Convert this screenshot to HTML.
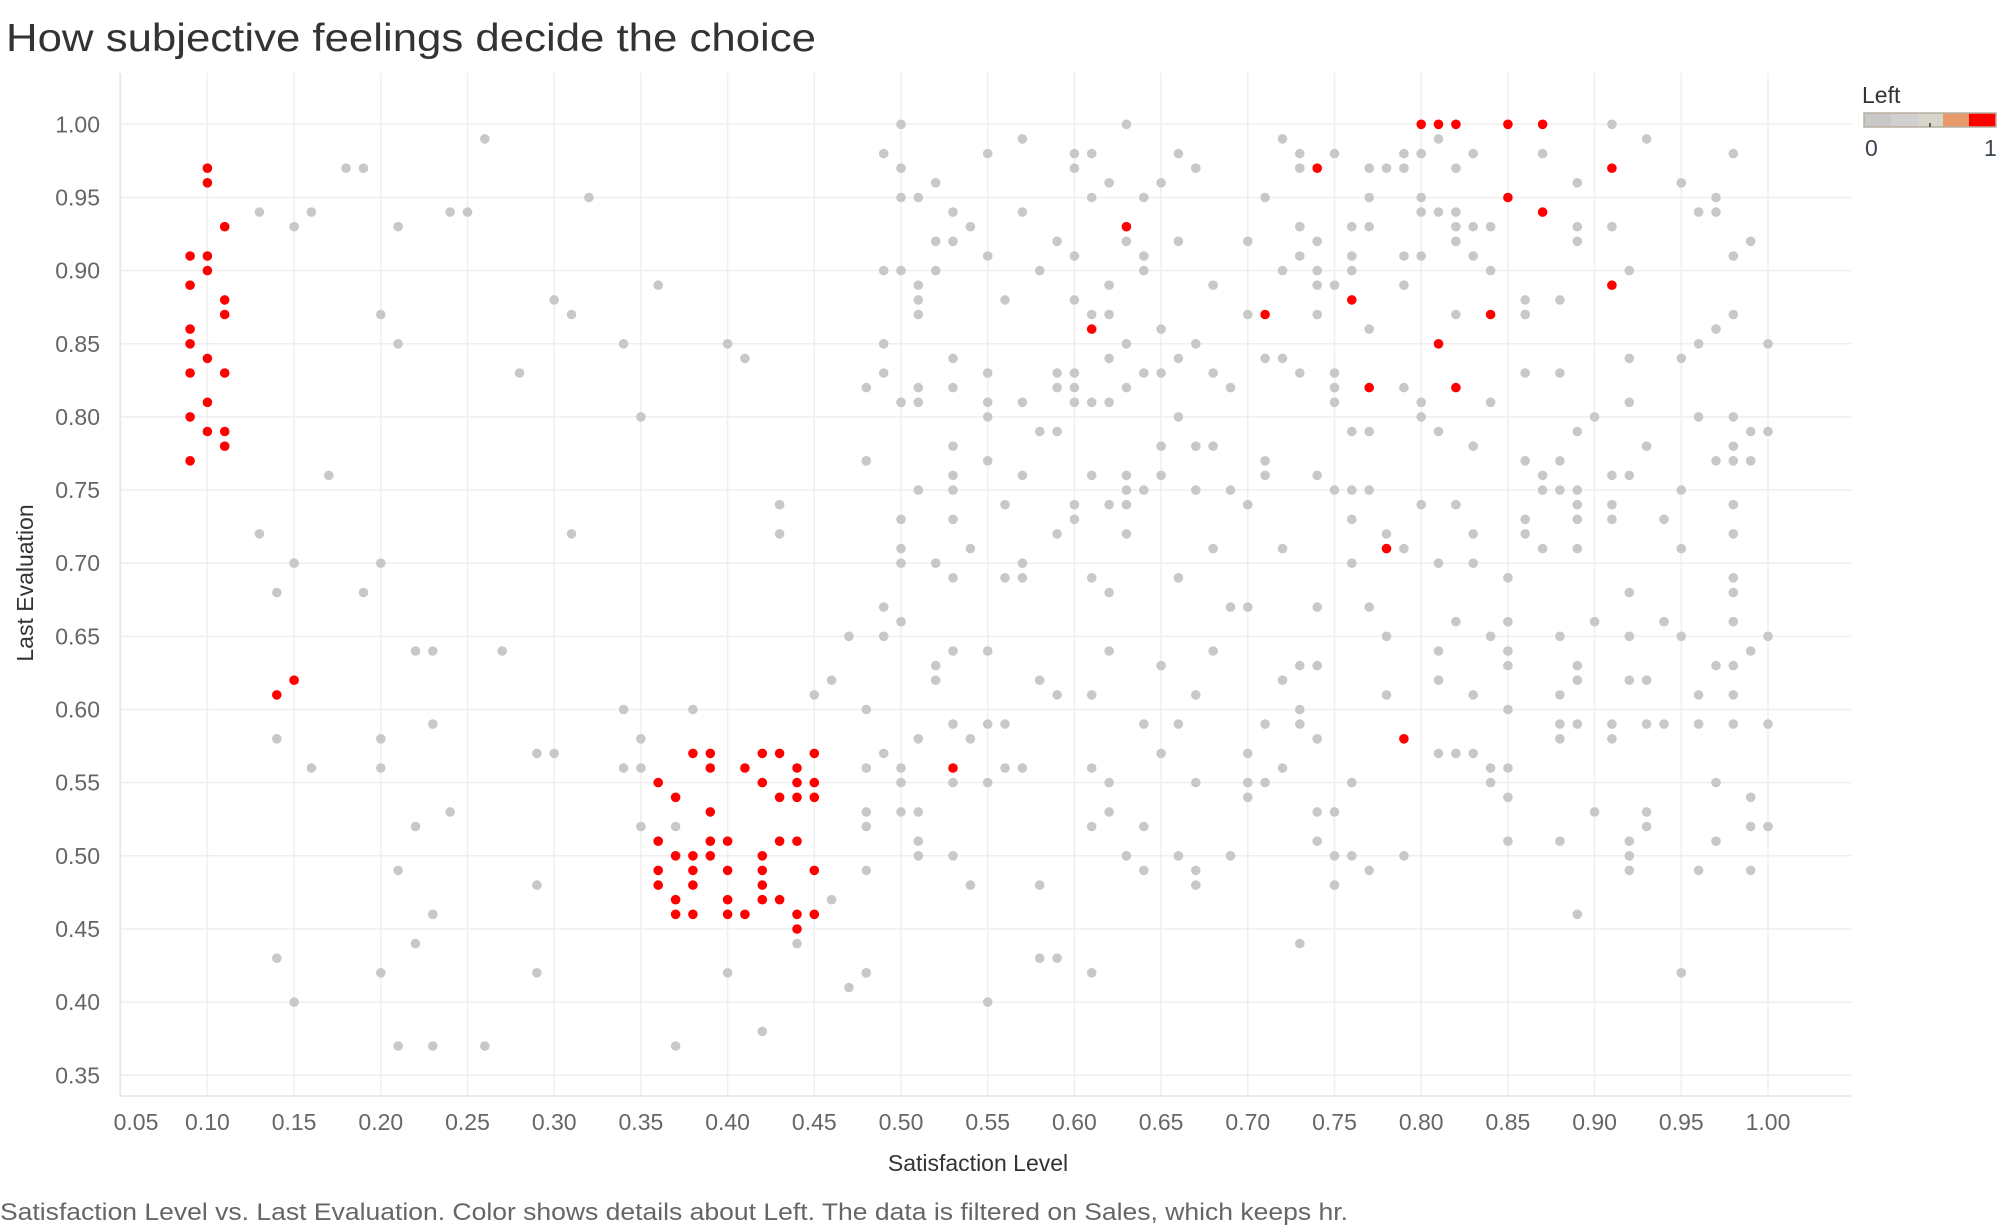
<!DOCTYPE html>
<html><head><meta charset="utf-8"><style>
html,body{margin:0;padding:0;background:#fff;}
svg{display:block;}
text{font-family:"Liberation Sans",sans-serif;}
</style></head><body>
<svg id="s" width="2000" height="1228" viewBox="0 0 2000 1228" xmlns="http://www.w3.org/2000/svg">
<rect width="2000" height="1228" fill="#fff"/>
<text x="6" y="51" font-size="39" fill="#333" textLength="810" lengthAdjust="spacingAndGlyphs">How subjective feelings decide the choice</text>
<g id="grid"></g>
<g id="lab" font-size="23" fill="#666"></g>
<text x="978" y="1171" font-size="23" fill="#333" text-anchor="middle">Satisfaction Level</text>
<text transform="translate(33,583) rotate(-90)" font-size="23" fill="#333" text-anchor="middle">Last Evaluation</text>
<text x="0" y="1220" font-size="24" fill="#666" textLength="1348" lengthAdjust="spacingAndGlyphs">Satisfaction Level vs. Last Evaluation.  Color shows details about Left. The data is filtered on Sales, which keeps hr.</text>
<text x="1862" y="103" font-size="23" fill="#333">Left</text>
<rect x="1864" y="113" width="27" height="14" fill="#c8c8c8"/>
<rect x="1891" y="113" width="26" height="14" fill="#cfcfcf"/>
<rect x="1917" y="113" width="26" height="14" fill="#d8d5cc"/>
<rect x="1943" y="113" width="26" height="14" fill="#e8996b"/>
<rect x="1969" y="113" width="27" height="14" fill="#ff0000"/>
<rect x="1864" y="113" width="132" height="14" fill="none" stroke="#b8b0a0" stroke-width="1.5"/>
<line x1="1930" y1="123" x2="1930" y2="127" stroke="#333" stroke-width="1.5"/>
<text x="1865" y="156" font-size="23" fill="#3a4450">0</text>
<text x="1984" y="156" font-size="23" fill="#3a4450">1</text>
<g id="pts"></g>
</svg>
<script>
var NS="http://www.w3.org/2000/svg";
function X(v){return 901+(v-0.5)*1734;}
function Y(v){return 124.3+(1-v)*1463;}
function el(p,t,a,txt){var e=document.createElementNS(NS,t);for(var k in a)e.setAttribute(k,a[k]);if(txt)e.textContent=txt;p.appendChild(e);return e;}
var grid=document.getElementById('grid'),lab=document.getElementById('lab');
for(var i=7;i<=20;i++){var v=i*0.05;var y=Y(v);
 el(grid,'line',{x1:120,x2:1851,y1:y,y2:y,stroke:'#efefef','stroke-width':1.5});
 el(lab,'text',{x:100,y:y+8,'text-anchor':'end'},v.toFixed(2));}
for(var i=1;i<=20;i++){var v=i*0.05;var x=X(v);
 el(grid,'line',{x1:x,x2:x,y1:73,y2:1096,stroke:'#efefef','stroke-width':1.5});
 el(lab,'text',{x:(i==1?136:x),y:1130,'text-anchor':'middle'},v.toFixed(2));}
el(grid,'line',{x1:120,x2:120,y1:73,y2:1096,stroke:'#e6e6e6','stroke-width':1.5});
el(grid,'line',{x1:120,x2:1851,y1:1096,y2:1096,stroke:'#e6e6e6','stroke-width':1.5});
var G={100:[50,63,91],99:[26,57,72,81,93],98:[49,55,60,61,66,73,75,79,80,83,87,98],97:[18,19,50,60,67,73,77,78,79,82],96:[52,62,65,89,95],95:[32,50,51,61,64,71,77,80,97],94:[13,16,24,25,53,57,80,81,82,96,97],93:[15,21,54,73,76,77,82,83,84,89,91],92:[52,53,59,63,66,70,74,82,89,99],91:[55,60,64,73,76,79,80,83,98],90:[49,50,52,58,64,72,74,76,84,92],89:[36,51,62,68,74,75,79],88:[30,51,56,60,86,88],87:[20,31,51,61,62,70,74,82,86,98],86:[65,77,97],85:[21,34,40,49,63,67,96,100],84:[41,53,62,66,71,72,92,95],83:[28,49,55,59,60,64,65,68,73,75,86,88],82:[48,51,53,59,60,63,69,75,79],81:[50,51,55,57,60,61,62,75,80,84,92],80:[35,55,66,80,90,96,98],79:[58,59,76,77,81,89,99,100],78:[53,65,67,68,83,93,98],77:[48,55,71,86,88,97,98,99],76:[17,53,57,61,63,65,71,74,87,91,92],75:[51,53,63,64,67,69,75,76,77,87,88,89,95],74:[43,56,60,62,63,70,80,82,89,91,98],73:[50,53,60,76,86,89,91,94],72:[13,31,43,59,63,78,83,86,98],71:[50,54,68,72,79,87,89,95],70:[15,20,50,52,57,76,81,83],69:[53,56,57,61,66,85,98],68:[14,19,62,92,98],67:[49,69,70,74,77],66:[50,82,85,90,94,98],65:[47,49,78,84,88,92,95,100],64:[22,23,27,53,55,62,68,81,85,99],63:[52,65,73,74,85,89,97,98],62:[46,52,58,72,81,89,92,93],61:[45,59,61,67,78,83,88,96,98],60:[34,38,48,73,85],59:[23,53,55,56,64,66,71,73,88,89,91,93,94,96,98,100],58:[14,20,35,51,54,74,88,91],57:[29,30,49,65,70,81,82,83],56:[16,20,34,35,48,50,56,57,61,72,84,85],55:[50,53,55,62,67,70,71,76,84,97],54:[70,85,99],53:[24,48,50,51,62,74,75,90,93],52:[22,35,37,48,61,64,93,99,100],51:[51,74,85,88,92,97],50:[51,53,63,66,69,75,76,79,92],49:[21,48,64,67,77,92,96,99],48:[29,54,58,67,75],47:[46],46:[23,89],44:[22,44,73],43:[14,58,59],42:[20,29,40,48,61,95],41:[47],40:[15,55],38:[42],37:[21,23,26,37]};
var R={100:[80,81,82,85,87],97:[10,74,91],96:[10],95:[85],94:[87],93:[11,63],91:[9,10],90:[10],89:[9,91],88:[11,76],87:[11,71,84],86:[9,61],85:[9,81],84:[10],83:[9,11],82:[77,82],81:[10],80:[9],79:[10,11],78:[11],77:[9],71:[78],62:[15],61:[14],58:[79],57:[38,39,42,43,45],56:[39,41,44,53],55:[36,42,44,45],54:[37,43,44,45],53:[39],51:[36,39,40,43,44],50:[37,38,39,42],49:[36,38,40,42,45],48:[36,38,42],47:[37,40,42,43],46:[37,38,40,41,44,45],45:[44]};
var pts=document.getElementById('pts');
function draw(D,c){for(var k in D){var yv=k/100;D[k].forEach(function(x){el(pts,'circle',{cx:X(x/100).toFixed(1),cy:Y(yv).toFixed(1),r:4.8,fill:c});});}}
draw(G,'#c8c8c8');draw(R,'#ff0000');
</script>
</body></html>
